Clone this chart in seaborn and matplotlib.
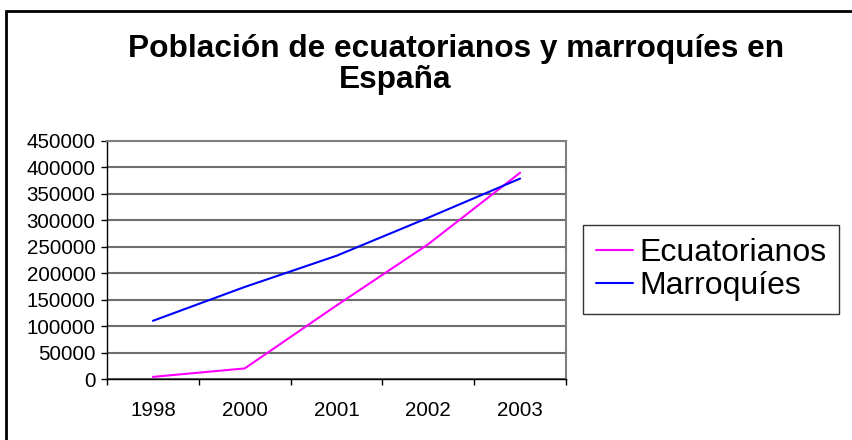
import numpy as np
import pandas as pd
import matplotlib.pyplot as plt
import seaborn as sns
from matplotlib.patches import Rectangle
from matplotlib.ticker import FixedLocator

# Datos
anios = ["1998", "2000", "2001", "2002", "2003"]
ecuatorianos = [4000, 20000, 139000, 255000, 390000]
marroquies = [110000, 174000, 233000, 305000, 379000]
series = ["Ecuatorianos", "Marroquíes"]
colores = ["#ff00ff", "#0000ff"]
yticks = list(range(0, 450001, 50000))

df = pd.DataFrame({
    "anio": anios * 2,
    "valor": ecuatorianos + marroquies,
    "serie": [series[0]] * len(anios) + [series[1]] * len(anios),
})

sns.set_style("white")
plt.rcParams["font.family"] = ["Liberation Sans", "DejaVu Sans"]
plt.rcParams["text.color"] = "black"
plt.rcParams["xtick.color"] = "black"
plt.rcParams["ytick.color"] = "black"

fig = plt.figure(figsize=(8.53, 4.4), dpi=100)
ax = fig.add_axes([107 / 853, 61 / 440, 459 / 853, 238 / 440])

sns.lineplot(data=df, x="anio", y="valor", hue="serie", palette=colores,
             linewidth=1.5, ax=ax, legend=True)

ax.set_xlim(-0.5, len(anios) - 0.5)
ax.set_ylim(0, 450000)
ax.set_yticks(yticks)
ax.set_yticklabels([str(v) for v in yticks])
ax.set_xticks(range(len(anios)))
ax.set_xticklabels(anios)
ax.xaxis.set_minor_locator(FixedLocator(np.arange(-0.5, len(anios), 1.0)))
ax.set_xlabel("")
ax.set_ylabel("")
ax.grid(axis="y", color="#6e6e6e", linewidth=1.5)
ax.set_axisbelow(True)

ax.tick_params(axis="y", which="major", length=4.3, width=1, color="black",
               direction="out", pad=4, labelsize=14.8, left=True,
               labelcolor="black")
ax.tick_params(axis="x", which="major", length=0, pad=16, labelsize=14.8,
               labelcolor="black")
ax.tick_params(axis="x", which="minor", length=4.3, width=1, color="black",
               direction="out", bottom=True)

for lado in ["top", "right"]:
    ax.spines[lado].set_color("#808080")
    ax.spines[lado].set_linewidth(1.5)
for lado in ["left", "bottom"]:
    ax.spines[lado].set_color("black")
    ax.spines[lado].set_linewidth(1)

leg = ax.legend(loc="upper left", bbox_to_anchor=(583 / 853, 1 - 225 / 440),
                bbox_transform=fig.transFigure, fontsize=23, frameon=True,
                fancybox=False, borderpad=0.4, handlelength=1.16,
                handletextpad=0.2, labelspacing=0.1, borderaxespad=0)
leg.get_frame().set_edgecolor("black")
leg.get_frame().set_linewidth(1)
for t in leg.get_texts():
    t.set_color("black")

fig.text(456 / 853, 1 - 57 / 440, "Población de ecuatorianos y marroquíes en",
         ha="center", va="baseline", fontsize=22.8, fontweight="bold",
         color="black")
fig.text(395 / 853, 1 - 88 / 440, "España",
         ha="center", va="baseline", fontsize=22.8, fontweight="bold",
         color="black")

# marco exterior del gráfico
fig.add_artist(Rectangle((6.5 / 853, -0.5), 2, 0.5 + 1 - 11.5 / 440,
                         transform=fig.transFigure, fill=False,
                         edgecolor="black", linewidth=2))

fig.savefig("out.png", dpi=100)
